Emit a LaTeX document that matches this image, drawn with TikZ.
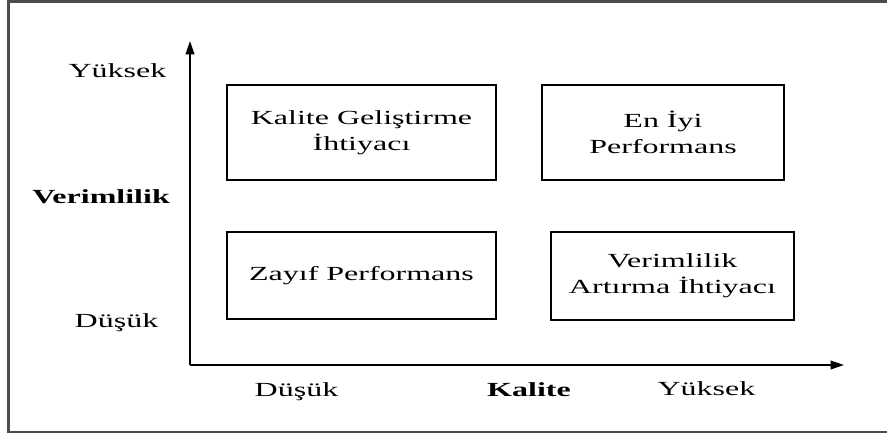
\documentclass[tikz,border=0pt]{standalone}
\usepackage{fontspec}
\setmainfont{Liberation Serif}[FakeStretch=1.6]
\usetikzlibrary{arrows.meta}
\tikzset{
  txt/.style={font=\fontsize{15pt}{19.5pt}\selectfont, inner sep=0pt},
  lbl/.style={txt, anchor=base},
  quad/.style={draw, line width=1.1pt, txt, align=center},
  axis/.style={line width=1.1pt, -{Triangle[length=10pt,width=6.5pt]}},
  frame/.style={draw=black!70, line width=1.6pt}
}
\begin{document}
\begin{tikzpicture}[x=0.75pt,y=-0.75pt]
\useasboundingbox (0,0) rectangle (887,435);
% outer frame (open on the right)
\draw[frame] (887,1.5) -- (8.5,1.5) -- (8.5,432) -- (887,432);
% quadrant boxes
\node[quad, minimum width=201.75pt, minimum height=71.25pt] (q1) at (361.5,132.5) {Kalite Geliştirme\\İhtiyacı};
\node[quad, minimum width=181.5pt, minimum height=71.25pt] (q2) at (663,132.5) {En İyi\\Performans};
\node[quad, minimum width=201.75pt, minimum height=65.25pt] (q3) at (361.5,275.5) {Zayıf Performans};
\node[quad, minimum width=182.25pt, minimum height=66pt] (q4) at (672.5,276) {Verimlilik\\Artırma İhtiyacı};
% axes
\coordinate (o) at (190,365);
\coordinate (ytop) at (190,41);
\coordinate (xend) at (844,365);
\draw[axis] (o) -- (ytop);
\draw[axis] (o) -- (xend);
% labels
\node[lbl] (yhigh) at (117.5,78) {Yüksek};
\node[lbl] (ylab) at (101,203) {\bfseries Verimlilik};
\node[lbl] (ylow) at (116.5,327) {Düşük};
\node[lbl] (xlow) at (296.5,396) {Düşük};
\node[lbl] (xlab) at (529,396) {\bfseries Kalite};
\node[lbl] (xhigh) at (706.5,395) {Yüksek};
\end{tikzpicture}
\end{document}
